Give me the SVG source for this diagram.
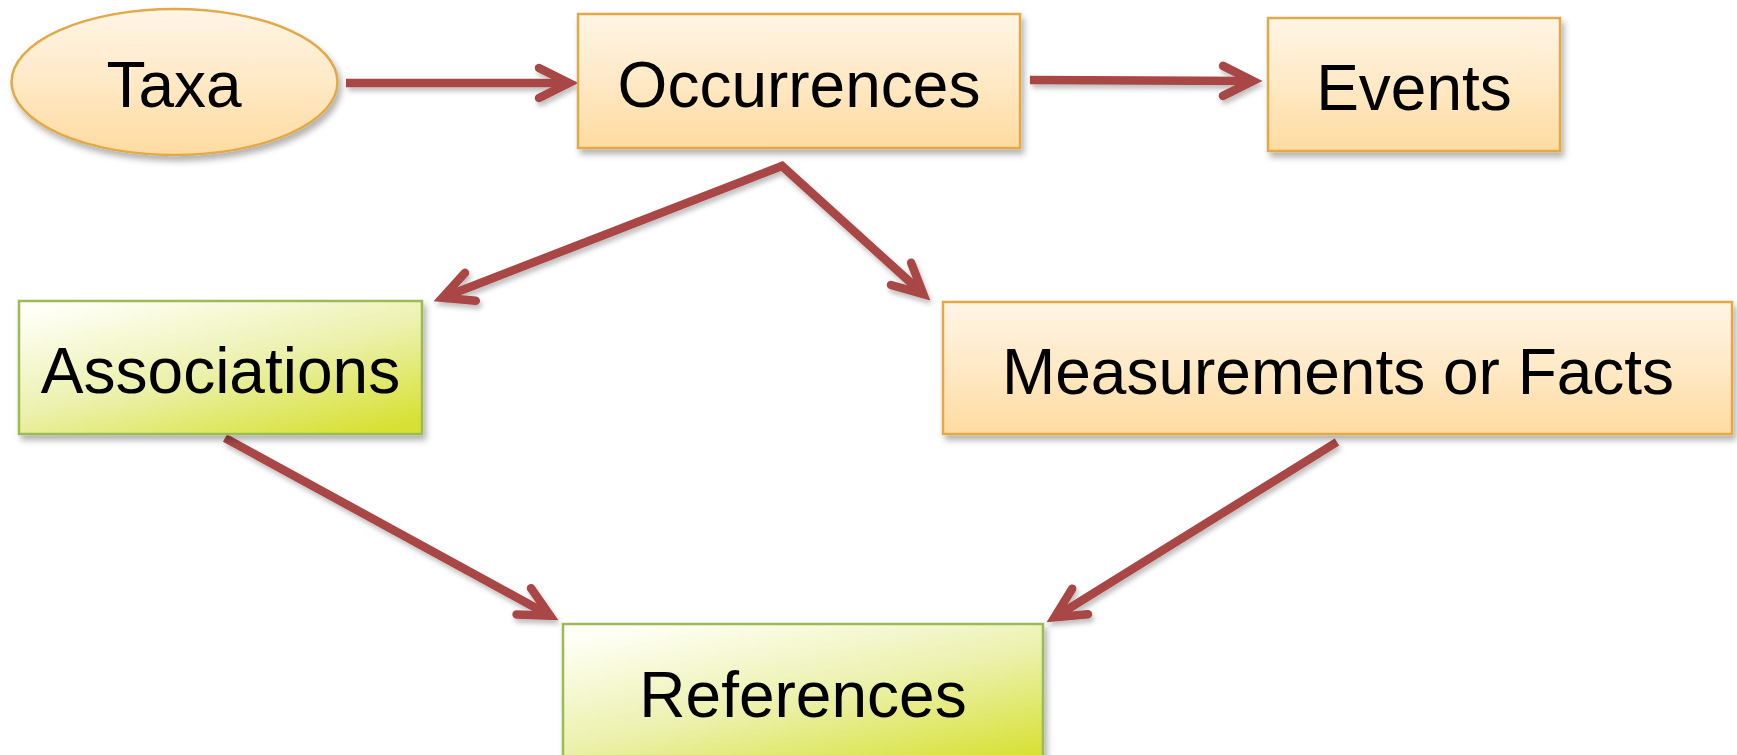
<svg xmlns="http://www.w3.org/2000/svg" width="1737" height="755" viewBox="0 0 1737 755">
<style>
.lbl{font-family:"Liberation Sans",Arial,sans-serif;font-size:64px;fill:#000;text-anchor:middle}
.orange{fill:url(#gOrange);stroke:#E2A947;stroke-width:2.5}
.green{fill:url(#gGreen);stroke:#9BBB59;stroke-width:2.5}
.conn{fill:none;stroke:#A84644;stroke-width:8.5;stroke-linecap:butt;stroke-linejoin:miter;marker-end:url(#arr)}
</style>
<defs>
<linearGradient id="gOrange" x1="0" y1="0" x2="0" y2="1">
<stop offset="0" stop-color="#FFF5E6"/>
<stop offset="0.5" stop-color="#FFE9C6"/>
<stop offset="1" stop-color="#FFDBA0"/>
</linearGradient>
<linearGradient id="gGreen" x1="0.15" y1="0" x2="0.85" y2="1">
<stop offset="0" stop-color="#FFFFF7"/>
<stop offset="0.5" stop-color="#ECF1AE"/>
<stop offset="1" stop-color="#D7E134"/>
</linearGradient>
<filter id="sh" x="-10%" y="-10%" width="125%" height="135%">
<feDropShadow dx="3" dy="5" stdDeviation="3" flood-color="#000" flood-opacity="0.3"/>
</filter>
<filter id="shl" x="-10%" y="-10%" width="120%" height="130%">
<feDropShadow dx="2" dy="4" stdDeviation="2.5" flood-color="#000" flood-opacity="0.25"/>
</filter>
<marker id="arr" markerUnits="userSpaceOnUse" orient="auto-start-reverse" markerWidth="60" markerHeight="60" viewBox="-40 -30 60 60" refX="-9" refY="0" overflow="visible">
<path d="M -39 -15 L -9 0 L -39 15" fill="none" stroke="#A84644" stroke-width="8.5" stroke-linecap="round" stroke-linejoin="miter" stroke-miterlimit="10"/>
</marker>
</defs>
<rect width="1737" height="755" fill="#fff"/>

<g id="connectors" filter="url(#shl)">
<path class="conn" d="M 346 83 L 569 83"/>
<path class="conn" d="M 1030 80 L 1253 81"/>
<path class="conn" d="M 442.4 297.7 L 782 166 L 923.3 294" style="marker-start:url(#arr)"/>
<path class="conn" d="M 225 438 L 550.1 615.7"/>
<path class="conn" d="M 1337 442 L 1054.6 617.3"/>
</g>

<g id="taxa" filter="url(#sh)">
<ellipse class="orange" cx="174.5" cy="82" rx="163" ry="73"/>
<text class="lbl" x="174" y="107">Taxa</text>
</g>
<g id="occurrences" filter="url(#sh)">
<rect class="orange" x="578" y="14" width="442" height="134"/>
<text class="lbl" x="799" y="107">Occurrences</text>
</g>
<g id="events" filter="url(#sh)">
<rect class="orange" x="1268" y="18" width="292" height="133"/>
<text class="lbl" x="1414" y="110">Events</text>
</g>
<g id="associations" filter="url(#sh)">
<rect class="green" x="19" y="301" width="403" height="133"/>
<text class="lbl" x="220.5" y="393">Associations</text>
</g>
<g id="measurements" filter="url(#sh)">
<rect class="orange" x="943" y="302" width="789" height="132"/>
<text class="lbl" x="1338" y="394">Measurements or Facts</text>
</g>
<g id="references" filter="url(#sh)">
<rect class="green" x="563" y="624" width="480" height="145"/>
<text class="lbl" x="803" y="717">References</text>
</g>
</svg>
